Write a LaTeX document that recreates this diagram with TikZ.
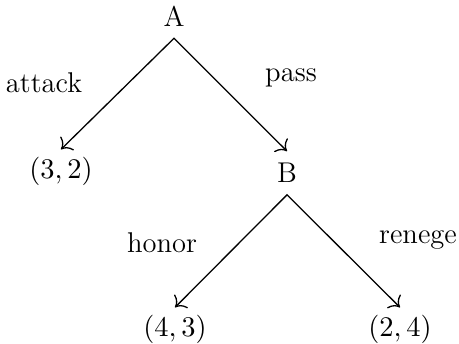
\documentclass[tikz,border=0pt]{standalone}
\usetikzlibrary{arrows.meta}
\begin{document}
\begin{tikzpicture}[x=0.01354cm, y=-0.01354cm, line width=0.5pt,
        font=\fontsize{11}{13}\selectfont,
        player/.style={inner sep=4.4pt},
        payoff/.style={inner sep=2.6pt},
        move/.style={{To[scale=1.3]}-{To[scale=1.3]}}]
            \useasboundingbox (0,0) rectangle (459,343);
            \node [player] (A) at (174,16) {A};
            \node [player] (B) at (287,173) {B};
            \node [payoff] (p32) at (61,171) {$(3,2)$};
            \node [payoff] (p43) at (175,329) {$(4,3)$};
            \node [payoff] (p24) at (400,329) {$(2,4)$};
            \node (attack) at (44,83) {attack};
            \node (pass) at (291,78) {pass};
            \node (honor) at (162,243) {honor};
            \node (renege) at (418,240) {renege};
            \draw [move] (p32.north) -- (A.south) -- (B.north);
            \draw [move] (p43.north) -- (B.south) -- (p24.north);
        \end{tikzpicture}
\end{document}
